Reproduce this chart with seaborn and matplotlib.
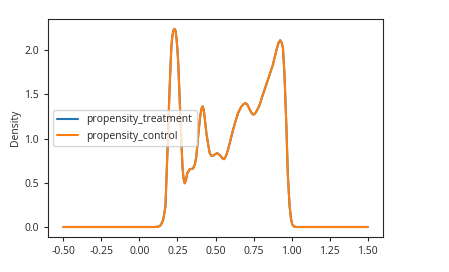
import matplotlib
matplotlib.use("Agg")
import matplotlib.pyplot as plt
import seaborn as sns
import pandas as pd

# density curve (both series identical)
x_vals = [-0.5, 0.0, 0.10, 0.123, 0.14, 0.156, 0.171, 0.184, 0.195, 0.203, 0.21, 0.216,
          0.221, 0.226, 0.232, 0.238, 0.244, 0.249, 0.254, 0.262, 0.27, 0.283, 0.29,
          0.298, 0.306, 0.315, 0.331, 0.352, 0.365, 0.374, 0.39, 0.40, 0.406, 0.411,
          0.416, 0.422, 0.428, 0.44, 0.452, 0.462, 0.473, 0.484, 0.497, 0.51, 0.523,
          0.535, 0.546, 0.556, 0.568, 0.582, 0.598, 0.615, 0.632, 0.648, 0.67, 0.685,
          0.698, 0.71, 0.722, 0.735, 0.746, 0.757, 0.772, 0.79, 0.81, 0.833, 0.855,
          0.877, 0.903, 0.915, 0.925, 0.935, 0.943, 0.953, 0.965, 0.975, 0.986, 0.995,
          1.004, 1.015, 1.03, 1.5]
density = [0.0, 0.0, 0.0, 0.003, 0.02, 0.079, 0.23, 0.84, 1.40, 1.76, 2.04, 2.15,
           2.20, 2.23, 2.238, 2.215, 2.13, 2.02, 1.89, 1.56, 1.21, 0.68, 0.55,
           0.494, 0.53, 0.61, 0.653, 0.66, 0.71, 0.80, 1.10, 1.26, 1.32, 1.355,
           1.362, 1.33, 1.25, 1.06, 0.93, 0.834, 0.805, 0.804, 0.822, 0.834, 0.82,
           0.80, 0.775, 0.766, 0.80, 0.872, 0.98, 1.098, 1.20, 1.287, 1.362, 1.39,
           1.40, 1.38, 1.335, 1.294, 1.272, 1.275, 1.315, 1.381, 1.49, 1.608, 1.72,
           1.834, 2.02, 2.085, 2.11, 2.08, 2.02, 1.72, 1.155, 0.589, 0.249, 0.10,
           0.03, 0.006, 0.0, 0.0]
series_names = ["propensity_treatment", "propensity_control"]

rows = []
for name in series_names:
    for xv, yv in zip(x_vals, density):
        rows.append({"x": xv, "Density": yv, "series": name})
df = pd.DataFrame(rows)

sns.set_style("ticks")
plt.rcParams["font.family"] = ["Open Sans", "DejaVu Sans"]

fig = plt.figure(figsize=(4.49, 2.72), dpi=100)
ax = fig.add_axes([0.107, 0.129, 0.746, 0.801])
sns.lineplot(data=df, x="x", y="Density", hue="series", hue_order=series_names,
             palette=["#1f77b4", "#ff7f0e"], linewidth=1.5, ax=ax, sort=False)

ax.set_xlim(-0.6, 1.6)
ax.set_ylim(-0.112, 2.35)
ax.set_xticks([-0.5, -0.25, 0.0, 0.25, 0.5, 0.75, 1.0, 1.25, 1.5])
ax.set_xticklabels(["-0.50", "-0.25", "0.00", "0.25", "0.50", "0.75", "1.00", "1.25", "1.50"])
ax.set_yticks([0.0, 0.5, 1.0, 1.5, 2.0])
ax.set_yticklabels(["0.0", "0.5", "1.0", "1.5", "2.0"])
ax.set_xlabel("")
ax.set_ylabel("Density", fontsize=7.5, labelpad=2.5)
ax.tick_params(labelsize=7.5, length=3, width=0.8, colors="#262626")
for s in ax.spines.values():
    s.set_color("#262626")
    s.set_linewidth(0.8)

leg = ax.legend(loc="center left", fontsize=7.5, frameon=True, title=None,
                handlelength=2.0, borderaxespad=0.5)
for line in leg.get_lines():
    line.set_linewidth(1.5)

fig.savefig("out.png", dpi=100)
